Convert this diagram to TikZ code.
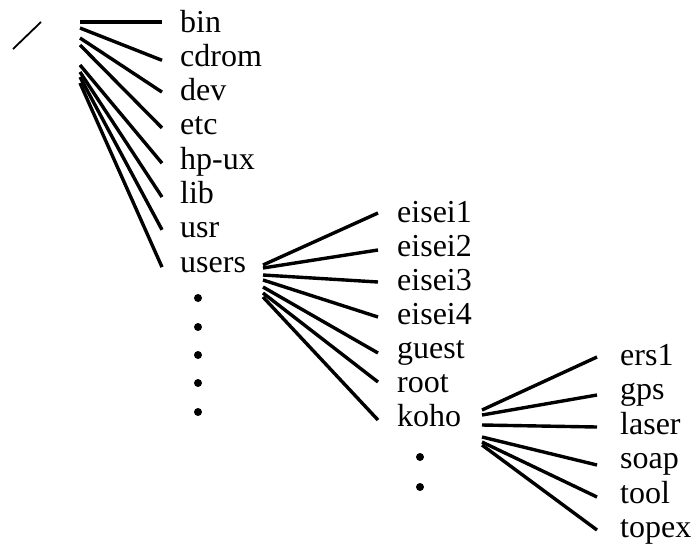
\documentclass[tikz,border=0pt]{standalone}
\usepackage{fontspec}
\setmainfont{Liberation Serif}
\begin{document}
\begin{tikzpicture}[x=1pt,y=-1pt,
  lbl/.style={anchor=base west, inner sep=0pt, font=\fontsize{32}{32}\selectfont},
  edge/.style={line width=3.4pt},
  dotmark/.style={circle, fill, inner sep=0pt, minimum size=8pt}]
\useasboundingbox (0,0) rectangle (698,544);
% slash (root)
\coordinate (sa) at (13,49);
\coordinate (sb) at (41,22);
\draw[line width=1.8pt] (sa) -- (sb);
% first level
\foreach \t/\sy/\dy [count=\i] in {bin/22/10,cdrom/28/6,dev/38/8.5,etc/45/7,hp-ux/65/6,lib/72/6.5,usr/77/8,users/83/5}{
  \node[lbl] (r\i) at (180,{32+34.3*(\i-1)}) {\t};
  \coordinate (rs\i) at (80,\sy);
  \draw[edge] (rs\i) -- ([shift={(-18pt,\dy pt)}]r\i.base west);
}
% users level
\foreach \t/\sy/\dy [count=\i] in {eisei1/265/9,eisei2/268/6,eisei3/275/8,eisei4/280/7,guest/287/5,root/293/10,koho/297/6}{
  \node[lbl] (u\i) at (397,{222+34*(\i-1)}) {\t};
  \coordinate (us\i) at (263,\sy);
  \draw[edge] (us\i) -- ([shift={(-19pt,\dy pt)}]u\i.base west);
}
% koho level
\foreach \t/\sy/\dy [count=\i] in {ers1/410/8,gps/415/4.5,laser/425/7,soap/437/3.5,tool/442/6,topex/445/7.5}{
  \node[lbl] (k\i) at (620,{365+34.5*(\i-1)}) {\t};
  \coordinate (ks\i) at (482,\sy);
  \draw[edge] (ks\i) -- ([shift={(-23pt,\dy pt)}]k\i.base west);
}
% dots
\foreach \y [count=\i] in {298,327,355,383,412}{
  \node[dotmark] (ud\i) at (198,\y) {};
}
\foreach \y [count=\i] in {457,487}{
  \node[dotmark] (kd\i) at (420,\y) {};
}
\end{tikzpicture}
\end{document}
